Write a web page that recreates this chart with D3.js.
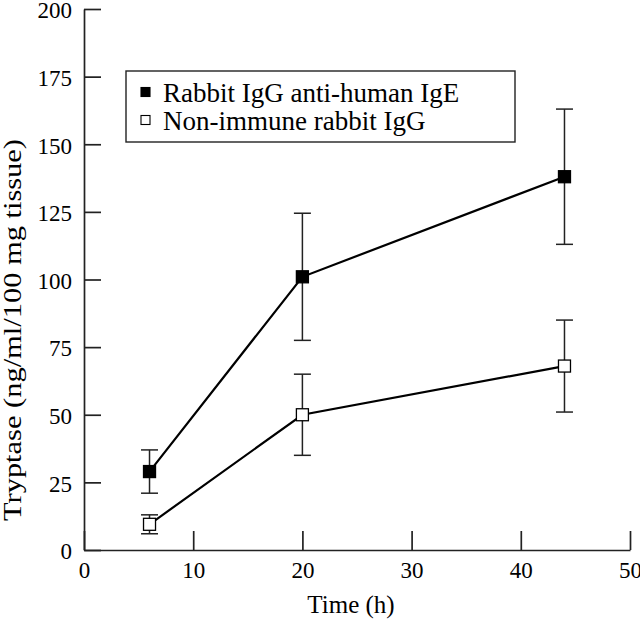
<!DOCTYPE html>
<html><head><meta charset="utf-8">
<script src="https://cdn.jsdelivr.net/npm/d3@7"></script>
<style>body{margin:0;background:#fff}svg{display:block}svg text{font-family:"Liberation Serif","Times New Roman","DejaVu Serif",serif !important;fill:#000}</style>
</head><body><svg id="c" width="640" height="622"></svg>
<script>
const times = [6, 20, 44];
const seriesNames = ["Rabbit IgG anti-human IgE", "Non-immune rabbit IgG"];
const antiIgE = [29, 101, 138];
const antiIgEErr = [8, 23.5, 25];
const nonImmune = [9.5, 50, 68];
const nonImmuneErr = [3.5, 15, 17];
const xTicks = [0, 10, 20, 30, 40, 50];
const yTicks = [0, 25, 50, 75, 100, 125, 150, 175, 200];
const FONT = "'Liberation Serif', 'Times New Roman', serif";

const svg = d3.select("#c");
const x = d3.scaleLinear().domain([0, 50]).range([84, 630]);
const y = d3.scaleLinear().domain([0, 200]).range([550, 9]);

// axes
const xa = svg.append("g").attr("transform", "translate(0,550)")
  .call(d3.axisBottom(x).tickValues(xTicks).tickSizeInner(-19).tickSizeOuter(0).tickPadding(15));
const ya = svg.append("g").attr("transform", "translate(84,0)")
  .call(d3.axisLeft(y).tickValues(yTicks).tickSizeInner(-17).tickSizeOuter(0).tickPadding(12));
[xa, ya].forEach(a => {
  a.attr("font-family", FONT);
  a.select(".domain").attr("stroke", "#222").attr("stroke-width", 1.7);
  a.selectAll(".tick line").attr("stroke", "#222").attr("stroke-width", 1.7);
  a.selectAll(".tick text").style("font-size", "23px").style("font-family", FONT);
});
xa.selectAll(".tick text").attr("y", 28).attr("dy", null);
ya.selectAll(".tick text").attr("dy", "0.38em");

svg.append("text").attr("x", 351).attr("y", 613).attr("text-anchor", "middle")
  .style("font-family", FONT).style("font-size", "25px").text("Time (h)");
svg.append("text").attr("transform", "translate(21,330) rotate(-90)").attr("text-anchor", "middle")
  .style("font-family", FONT).style("font-size", "26px").attr("textLength", 382).attr("lengthAdjust", "spacingAndGlyphs")
  .text("Tryptase (ng/ml/100 mg tissue)");

const series = [
  {vals: antiIgE, err: antiIgEErr, fill: "#000"},
  {vals: nonImmune, err: nonImmuneErr, fill: "#fff"}
];
const line = d3.line().x((d, i) => x(times[i])).y(d => y(d));
series.forEach(s => {
  const g = svg.append("g");
  times.forEach((t, i) => {
    const cx = x(t), top = y(s.vals[i] + s.err[i]), bot = y(s.vals[i] - s.err[i]);
    g.append("line").attr("x1", cx).attr("x2", cx).attr("y1", top).attr("y2", bot).attr("stroke", "#222").attr("stroke-width", 1.5);
    [top, bot].forEach(yy => g.append("line").attr("x1", cx - 8.5).attr("x2", cx + 8.5).attr("y1", yy).attr("y2", yy).attr("stroke", "#222").attr("stroke-width", 1.5));
  });
  g.append("path").attr("d", line(s.vals)).attr("fill", "none").attr("stroke", "#000").attr("stroke-width", 2.2);
  times.forEach((t, i) => {
    g.append("rect").attr("x", x(t) - 6).attr("y", y(s.vals[i]) - 6).attr("width", 12).attr("height", 12)
      .attr("fill", s.fill).attr("stroke", "#000").attr("stroke-width", 1.3);
  });
});

// legend
const lg = svg.append("g");
lg.append("rect").attr("x", 126).attr("y", 71).attr("width", 389).attr("height", 71).attr("fill", "#fff").attr("stroke", "#222").attr("stroke-width", 1.4);
seriesNames.forEach((n, i) => {
  const cy = 92 + i * 28;
  lg.append("rect").attr("x", 141).attr("y", cy - 4.5).attr("width", 9).attr("height", 9)
    .attr("fill", series[i].fill).attr("stroke", "#000").attr("stroke-width", 1.1);
  lg.append("text").attr("x", 163).attr("y", cy + 10).style("font-family", FONT).style("font-size", "27px").text(n);
});
</script></body></html>
